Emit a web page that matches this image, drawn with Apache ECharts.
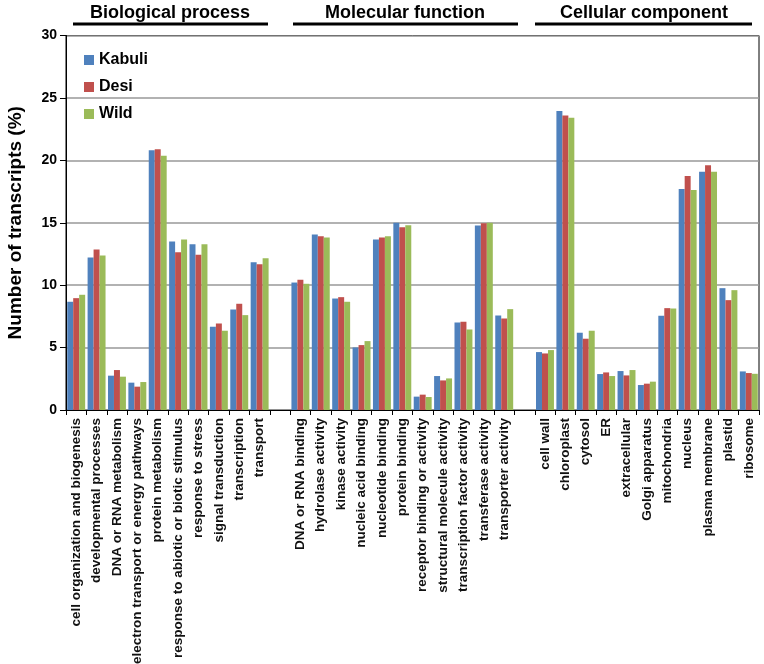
<!DOCTYPE html>
<html>
<head>
<meta charset="utf-8">
<script src="https://cdn.jsdelivr.net/npm/echarts@6/dist/echarts.min.js"></script>
<style>html,body{margin:0;padding:0;background:#fff}#c{width:764px;height:664px}</style>
</head>
<body>
<div id="c"></div>
<script>
const categories = [
  'cell organization and biogenesis','developmental processes','DNA or RNA metabolism','electron transport or energy pathways','protein metabolism','response to abiotic or biotic stimulus','response to stress','signal transduction','transcription','transport',
  '',
  'DNA or RNA binding','hydrolase activity','kinase activity','nucleic acid binding','nucleotide binding','protein binding','receptor binding or activity','structural molecule activity','transcription factor activity','transferase activity','transporter activity',
  ' ',
  'cell wall','chloroplast','cytosol','ER','extracellular','Golgi apparatus','mitochondria','nucleus','plasma membrane','plastid','ribosome'
];
const kabuli = [8.67,12.21,2.75,2.19,20.8,13.49,13.28,6.67,8.05,11.84, null,
  10.21,14.05,8.93,5.01,13.65,14.99,1.07,2.72,7.01,14.77,7.57, null,
  4.64,23.95,6.19,2.88,3.12,2.0,7.55,17.71,19.09,9.76,3.09];
const desi = [8.96,12.85,3.2,1.87,20.88,12.64,12.43,6.93,8.51,11.68, null,
  10.43,13.92,9.04,5.2,13.81,14.64,1.23,2.37,7.07,14.96,7.33, null,
  4.53,23.6,5.71,3.01,2.77,2.11,8.16,18.75,19.6,8.8,2.96];
const wild = [9.23,12.37,2.67,2.24,20.37,13.65,13.28,6.35,7.6,12.16, null,
  10.11,13.81,8.67,5.52,13.92,14.8,1.04,2.53,6.45,14.99,8.08, null,
  4.8,23.41,6.35,2.72,3.2,2.27,8.13,17.63,19.09,9.6,2.9];
const seriesNames = ['Kabuli','Desi','Wild'];
const groupTitles = ['Biological process','Molecular function','Cellular component'];
const yTicks = [0,5,10,15,20,25,30];

const colors = ['#4F81BD','#C0504D','#9BBB59'];
const FONT = 'Liberation Sans, Arial, sans-serif';
const chart = echarts.init(document.getElementById('c'));

const headerPos = [
  {cx:170, x1:73, x2:268},
  {cx:405, x1:293, x2:518},
  {cx:644, x1:535, x2:752}
];
const graphics = [];
groupTitles.forEach((t,i)=>{
  const h = headerPos[i];
  graphics.push({type:'text', style:{text:t, x:h.cx, y:13, font:'bold 18px '+FONT, fill:'#000', align:'center', verticalAlign:'middle'}});
  graphics.push({type:'line', shape:{x1:h.x1, y1:24, x2:h.x2, y2:24}, style:{stroke:'#000', lineWidth:3}});
});

chart.setOption({
  animation:false,
  color: colors,
  textStyle:{fontFamily:FONT},
  grid:{left:66, right:5, top:35.5, bottom:254, show:true, borderColor:'#000', borderWidth:1, backgroundColor:'transparent', containLabel:false, outerBoundsMode:'none'},
  legend:{
    data: seriesNames, orient:'vertical', left:79, top:47,
    itemWidth:10, itemHeight:10, itemGap:11, icon:'rect',
    textStyle:{fontSize:16, fontWeight:'bold', color:'#000', fontFamily:FONT}
  },
  xAxis:{
    type:'category', data:categories,
    axisLine:{lineStyle:{color:'#000', width:1}},
    axisTick:{show:true, alignWithLabel:false, length:5, lineStyle:{color:'#000'}},
    axisLabel:{rotate:90, interval:0, fontSize:13.5, fontWeight:'bold', color:'#111', margin:8, fontFamily:FONT}
  },
  yAxis:{
    type:'value', min:yTicks[0], max:yTicks[yTicks.length-1], interval:5,
    name:'Number of transcripts (%)', nameLocation:'middle', nameGap:41, nameRotate:90,
    nameTextStyle:{fontSize:19, fontWeight:'bold', color:'#000', fontFamily:FONT},
    axisLine:{show:true, lineStyle:{color:'#000'}},
    axisTick:{show:true, length:6, lineStyle:{color:'#000'}},
    axisLabel:{fontSize:14, fontWeight:'bold', color:'#000', margin:9, fontFamily:FONT},
    splitLine:{lineStyle:{color:'#999', width:1.5}}
  },
  series: [kabuli, desi, wild].map((d,i)=>({
    name: seriesNames[i], type:'bar', data:d, barGap:'0%', barCategoryGap:'12%'
  })),
  graphic: graphics
});
</script>
</body>
</html>
